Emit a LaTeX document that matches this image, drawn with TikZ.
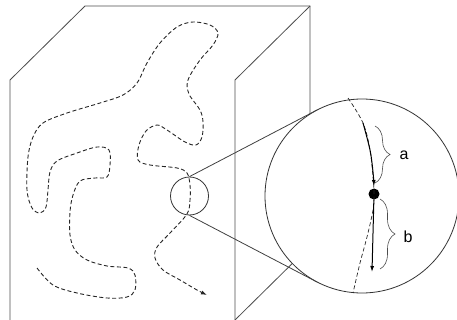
\documentclass[tikz,border=0pt]{standalone}
\usepackage{fontspec}
\setmainfont{Liberation Sans}
\usetikzlibrary{arrows.meta,decorations.pathreplacing}

\begin{document}
\begin{tikzpicture}[
  x=1pt, y=-1pt,
  >={Latex[length=6pt,width=4pt]},
  edge/.style={draw=black!70, line width=0.8pt},
  trail/.style={draw=black!85, line width=0.9pt, dash pattern=on 4pt off 2.5pt},
  ring/.style={circle, draw=black!80, line width=0.8pt, inner sep=0pt},
  ray/.style={draw=black!75, line width=0.8pt},
  brc/.style={draw=black!70, line width=0.6pt, decorate,
              decoration={brace, amplitude=#1}},
  lbl/.style={font=\fontsize{16}{18}\selectfont, inner sep=0pt},
]
\useasboundingbox (0,0) rectangle (457,320);

% ── cube ────────────────────────────────────────────────────────────────
\coordinate (fbl) at (10,320);
\coordinate (ftl) at (10,80);
\coordinate (btl) at (85,6);
\coordinate (btr) at (310,6);
\coordinate (bbr) at (310,246);
\coordinate (fbr) at (235,320);
\coordinate (ftr) at (235,80);

\draw[edge] (fbl) -- (ftl) -- (btl) -- (btr) -- (bbr);
\draw[edge] (fbr) -- (ftr) -- (btr);
\draw[edge] (fbr) -- (bbr);

% ── random walk inside the cube ─────────────────────────────────────────
\draw[trail, ->] plot[smooth, tension=0.55] coordinates {
  (37,268) (53,285) (77,293) (107,298) (127,297) (135,290) (135,275)
  (128,268) (107,266) (87,260) (75,250) (70,235) (70,212) (73,195)
  (80,181) (95,178) (107,177) (110,165) (109,150) (97,147) (77,153)
  (57,161) (50,172) (48,190) (46,207) (40,213) (32,208) (27,190)
  (28,157) (33,137) (43,123) (67,113) (100,103) (123,95) (137,83)
  (147,63) (160,43) (177,27) (193,22) (210,25) (218,33) (213,45)
  (200,60) (188,80) (189,94) (200,110) (203,122) (202,137) (196,145)
  (185,142) (167,130) (157,125) (146,131) (139,145) (138,160)
  (150,165) (177,168) (187,173) (190,185) (190,200) (187,214)
  (170,233) (157,247) (155,258) (163,270) (180,280) (197,290) (207,295)};

% ── magnifier ───────────────────────────────────────────────────────────
\node[ring, minimum size=38pt] (mag) at (189.5,196) {};
\node[ring, fill=white, minimum size=194pt] (lens) at (362,196) {};

\coordinate (tup) at (317,110);
\coordinate (tdn) at (317,282);
\draw[ray] (mag.north) -- (tup);
\draw[ray] (mag.south) -- (tdn);

% step in the lens
\node[circle, fill=black, inner sep=0pt, minimum size=11pt] (pt) at (374,194) {};
\draw[trail, line width=0.7pt] plot[smooth, tension=0.6] coordinates {
  (348,98) (363,123) (370,150) (373,177) (374,194)
  (373,210) (367,237) (360,263) (353,293)};
\draw[line width=1pt, ->] plot[smooth, tension=0.6] coordinates {
  (363,123) (370,150) (373,172) (374,186)};
\draw[line width=1pt, ->] (pt) -- (372,272);

% braces and labels
\draw[brc=15pt] (375,126) -- (375,183);
\draw[brc=15pt] (380,199) -- (380,269);
\node[lbl] (la) at (404,155) {a};
\node[lbl] (lb) at (408,237) {b};
\end{tikzpicture}
\end{document}
